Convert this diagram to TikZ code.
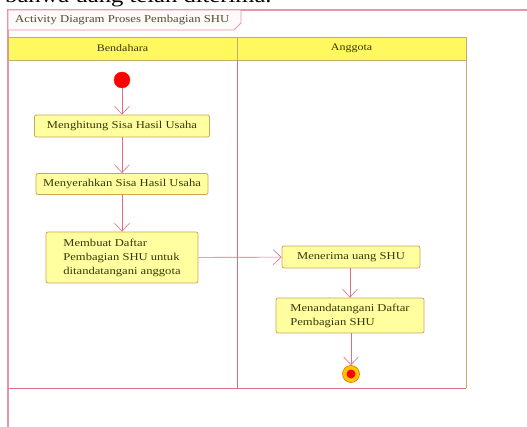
\documentclass[tikz,border=0pt]{standalone}
\usepackage{fontspec}
\setmainfont{Liberation Serif}[FakeStretch=1.2]
\usetikzlibrary{arrows.meta}
\definecolor{umlline}{RGB}{222,110,130}
\definecolor{frameline}{RGB}{232,150,165}
\definecolor{actfill}{RGB}{255,255,160}
\definecolor{actborder}{RGB}{205,165,90}
\definecolor{headfill}{RGB}{255,248,95}
\definecolor{headborder}{RGB}{200,170,110}
\definecolor{umltext}{RGB}{55,55,10}
\definecolor{titlefill}{RGB}{253,250,250}
\tikzset{
  activity/.style={draw=actborder, fill=actfill, rounded corners=2pt, line width=0.8pt,
    text=umltext, font=\fontsize{10.5}{14}\selectfont, inner sep=3pt},
  flow/.style={draw=umlline, line width=0.6pt, -{Straight Barb[length=8pt,width=15pt]}},
  lane/.style={draw=umlline, line width=0.7pt},
  lanehead/.style={draw=headborder, fill=headfill, line width=0.7pt},
  headtext/.style={text=umltext, font=\fontsize{10}{12}\selectfont},
}
\begin{document}
\begin{tikzpicture}[x=1pt,y=-1pt]
\useasboundingbox (0,0) rectangle (527,427);
\fill[white] (0,0) rectangle (527,427);
% text of the page above the figure, cut by the page edge
\begin{scope}
  \clip (0,0) rectangle (527,427);
  \node[anchor=base west, inner sep=0pt, font=\fontsize{20.5}{24}\selectfont] (pagetext) at (5,2.5) {bahwa uang telah diterima.};
\end{scope}
% outer frame
\draw[frameline, line width=1.6pt] (8,427) -- (8,10) -- (527,10);
% frame title tab
\draw[frameline, fill=titlefill, line width=0.8pt] (8,10) -- (241,10) -- (241,23) -- (234,30) -- (8,30) -- cycle;
\node[anchor=west, inner sep=0pt, text=umltext!70!gray, font=\fontsize{10.6}{12}\selectfont] (title) at (15,20) {Activity Diagram Proses Pembagian SHU};
% swimlane headers
\draw[lanehead] (8,37) rectangle (237,60);
\draw[lanehead] (237,37) rectangle (466,60);
\node[headtext] (bendahara) at (122.5,48.5) {Bendahara};
\node[headtext] (anggota) at (351.5,48.5) {Anggota};
% swimlane bodies
\draw[lane] (237,60) -- (237,388);
\draw[draw=headborder, line width=0.7pt] (466,60) -- (466,388);
\draw[lane] (8,388) -- (466,388);
% nodes
\node[circle, fill=red, draw=red!80!orange, minimum size=16pt, inner sep=0pt] (start) at (122,80) {};
\node[activity, minimum width=175pt, minimum height=22pt] (hitung) at (122,126) {Menghitung Sisa Hasil Usaha};
\node[activity, minimum width=172pt, minimum height=21pt] (serah) at (122,184) {Menyerahkan Sisa Hasil Usaha};
\node[activity, minimum width=152pt, minimum height=51pt, align=left] (buat) at (122,257.5)
  {Membuat Daftar\\Pembagian SHU untuk\\ditandatangani anggota};
\node[activity, minimum width=138pt, minimum height=22pt] (terima) at (351,257) {Menerima uang SHU};
\node[activity, minimum width=148pt, minimum height=35pt, align=left] (tanda) at (350,315.5)
  {Menandatangani Daftar\\Pembagian SHU};
\node[circle, fill=orange!45!yellow, draw=orange!80!red, line width=0.6pt, minimum size=17pt, inner sep=0pt] (end) at (351,374) {};
\node[circle, fill=red, minimum size=9pt, inner sep=0pt] (endcore) at (end.center) {};
% control flows
\draw[flow] (start) -- (hitung);
\draw[flow] (hitung) -- (serah);
\draw[flow] (serah) -- (buat);
\draw[flow] (buat) -- (terima);
\draw[flow] (terima.south -| tanda.north) -- (tanda);
\draw[flow] (tanda.south -| end.north) -- (end);
\end{tikzpicture}
\end{document}
